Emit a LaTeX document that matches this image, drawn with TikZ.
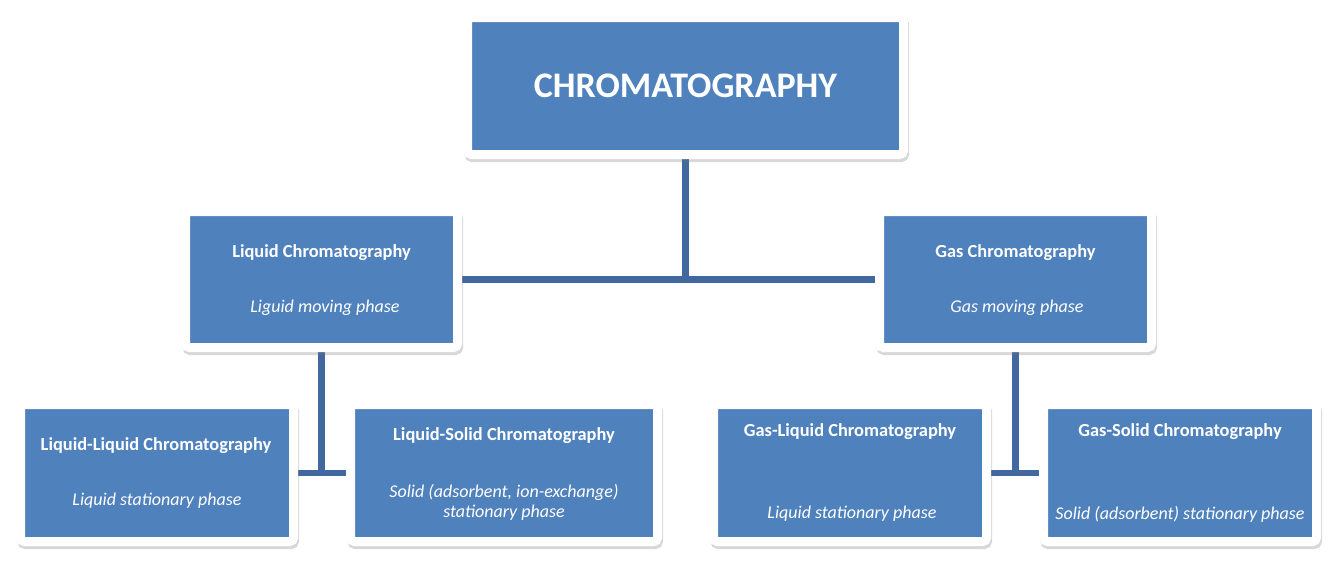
\documentclass[tikz,border=0pt]{standalone}
\usepackage{fontspec}
\setmainfont{Carlito}
\usetikzlibrary{shadows,backgrounds}
\definecolor{boxblue}{HTML}{4F81BD}
\definecolor{lineblue}{HTML}{41699F}
\tikzset{
	chartbox/.style={draw=white, line width=4.5pt, fill=boxblue, rounded corners=2pt, inner sep=0pt,
		drop shadow={shadow xshift=0.6pt, shadow yshift=-1.6pt, opacity=0.28, fill=black!55, draw=black!55, line width=4.5pt}},
	link/.style={draw=lineblue, line width=3.2pt},
	headtext/.style={text=white, font=\bfseries\fontsize{9.2}{11}\selectfont, inner sep=0pt},
	phasetext/.style={text=white, font=\itshape\fontsize{9}{10}\selectfont, inner sep=0pt, align=center},
}

\begin{document}
\begin{tikzpicture}[x=0.5pt, y=-0.5pt]
		%%%%% START %%%%%
		
		\useasboundingbox (0, 0) rectangle (1341, 569);
		
		\node[chartbox, minimum width=218pt, minimum height=68.5pt, text=white, font=\bfseries\fontsize{18}{20}\selectfont] (chrom) at (685.5, 86) {CHROMATOGRAPHY};
		
		\node[chartbox, minimum width=136pt, minimum height=68pt] (liquid) at (321.5, 279.5) {};
		\node[chartbox, minimum width=136pt, minimum height=68pt] (gas) at (1015.5, 279.5) {};
		
		\node[chartbox, minimum width=136.5pt, minimum height=68.5pt] (liqliq) at (157, 473) {};
		\node[chartbox, minimum width=153.5pt, minimum height=68.5pt] (liqsol) at (504, 473) {};
		\node[chartbox, minimum width=136.5pt, minimum height=68.5pt] (gasliq) at (850, 473) {};
		\node[chartbox, minimum width=136.5pt, minimum height=68.5pt] (gassol) at (1180, 473) {};
		
		\node[headtext] (liquidhead) at (321.5, 253) {Liquid Chromatography};
		\node[phasetext] (liquidphase) at (325, 308) {Liguid moving phase};
		\node[headtext] (gashead) at (1015.5, 253) {Gas Chromatography};
		\node[phasetext] (gasphase) at (1017, 308) {Gas moving phase};
		
		\node[headtext] (liqliqhead) at (156, 446) {Liquid-Liquid Chromatography};
		\node[phasetext] (liqliqphase) at (157, 501) {Liquid stationary phase};
		\node[headtext] (liqsolhead) at (504, 436) {Liquid-Solid Chromatography};
		\node[phasetext] (liqsolphase) at (504, 502) {Solid (adsorbent, ion-exchange)\\stationary phase};
		\node[headtext] (gasliqhead) at (850, 432) {Gas-Liquid Chromatography};
		\node[phasetext] (gasliqphase) at (852, 514) {Liquid stationary phase};
		\node[headtext] (gassolhead) at (1180, 432) {Gas-Solid Chromatography};
		\node[phasetext] (gassolphase) at (1180, 514) {Solid (adsorbent) stationary phase};
		
		\begin{scope}[on background layer]
			\draw[link] (chrom.south) -- (chrom.south |- liquid.east);
			\draw[link] (liquid.east) -- (gas.west);
			\draw[link] (liquid.south) -- (liquid.south |- liqliq.east);
			\draw[link] (liqliq.east) -- (liqsol.west);
			\draw[link] (gas.south) -- (gas.south |- gasliq.east);
			\draw[link] (gasliq.east) -- (gassol.west);
		\end{scope}
		
		%%%%% END %%%%%
\end{tikzpicture}
\end{document}
